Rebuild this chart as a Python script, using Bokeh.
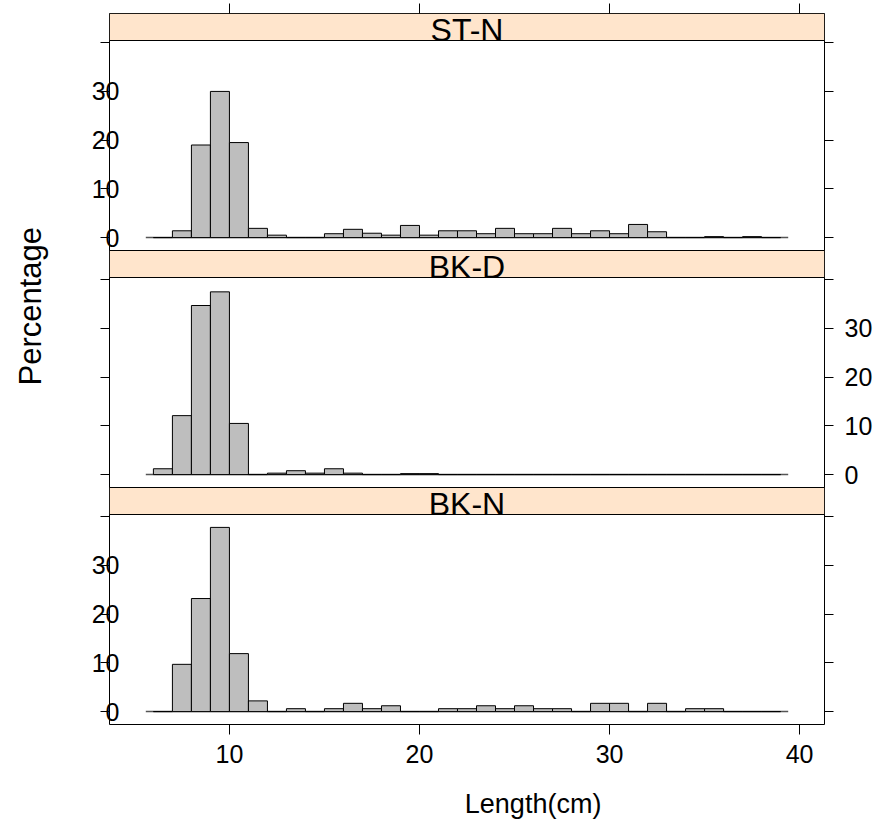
from bokeh.plotting import figure
from bokeh.layouts import column, row
from bokeh.models import LinearAxis, FixedTicker, Range1d
from bokeh.embed import file_html
from bokeh.resources import INLINE
from bokeh.core.properties import value

# ---------------- data ----------------
length_bins = list(range(6, 40))          # histogram bin edges (cm), 1 cm wide
panel_names = ["ST-N", "BK-D", "BK-N"]
pct_st_n = [0, 1.4, 19.0, 30.0, 19.5, 1.9, 0.5, 0, 0, 0.8, 1.7, 0.9, 0.5, 2.5, 0.5, 1.4, 1.4,
            0.8, 1.9, 0.8, 0.8, 1.9, 0.8, 1.4, 0.8, 2.7, 1.2, 0, 0, 0.2, 0, 0.2, 0]
pct_bk_d = [1.2, 12.1, 34.7, 37.5, 10.5, 0, 0.3, 0.8, 0.3, 1.2, 0.3, 0, 0, 0.2, 0.2,
            0, 0, 0, 0, 0, 0, 0, 0, 0, 0, 0, 0, 0, 0, 0, 0, 0, 0]
pct_bk_n = [0, 9.7, 23.2, 37.8, 11.9, 2.2, 0, 0.6, 0, 0.6, 1.7, 0.6, 1.2, 0, 0, 0.6, 0.6,
            1.2, 0.6, 1.2, 0.6, 0.6, 0, 1.7, 1.7, 0, 1.7, 0, 0.6, 0.6, 0, 0, 0]
y_ticks = [0, 10, 20, 30, 40]
y_tick_labels = ["0", "10", "20", "30", ""]
x_ticks = [10, 20, 30, 40]
x_tick_labels = ["10", "20", "30", "40"]
x_title = "Length(cm)"
y_title = "Percentage"
left_labelled = [True, False, True]     # alternating lattice-style y labels
right_labelled = [False, True, False]

series = [pct_st_n, pct_bk_d, pct_bk_n]

# ---------------- layout constants ----------------
FONT = "Liberation Sans"
W_LEFT = 60
W = 878 - W_LEFT
L_BORDER = 109 - W_LEFT
R_BORDER = 878 - 824
PANEL_H = 210
STRIP_H = 27
TOP_PAD = 13
AXIS_PAD = 57
N = len(panel_names)
MAIN_H = TOP_PAD + N * (PANEL_H + STRIP_H) + AXIS_PAD
TITLE_H = 825 - MAIN_H

xlo, xhi = length_bins[0], length_bins[-1]
xpad = 0.07 * (xhi - xlo)
x_start, x_end = xlo - xpad, xhi + xpad
ymax = max(max(s) for s in series)
y_start, y_end = -0.07 * ymax, 1.07 * ymax
ppu = PANEL_H / (y_end - y_start)             # pixels per percentage unit
strip_units = STRIP_H / ppu
band_units = (PANEL_H + STRIP_H) / ppu
total_units = N * band_units

# each panel gets its own y scale, stacked within one frame
p = figure(width=W, height=MAIN_H,
           x_range=Range1d(x_start, x_end),
           y_range=Range1d(y_start, y_start + total_units),
           output_backend="svg", toolbar_location=None,
           x_axis_location=None, y_axis_location=None,
           min_border_left=L_BORDER, min_border_right=R_BORDER,
           min_border_top=TOP_PAD, min_border_bottom=AXIS_PAD)
p.grid.visible = False
p.outline_line_color = "black"
p.outline_line_width = 1

left_ticks, left_over, right_over = [], {}, {}
for k, (name, pct) in enumerate(zip(panel_names, series)):
    shift = (N - 1 - k) * band_units
    rname = "panel%d" % k
    p.extra_y_ranges[rname] = Range1d(y_start - shift, y_start - shift + total_units)

    # strip
    p.quad(left=[x_start], right=[x_end], bottom=[y_end], top=[y_end + strip_units],
           fill_color="#ffe5cc", line_color="black", line_width=1, y_range_name=rname)
    p.text(x=[(x_start + x_end) / 2], y=[y_end + strip_units * 0.40], text=[name],
           text_font=value(FONT), text_font_size="32px", text_align="center",
           text_baseline="middle", text_color="black", y_range_name=rname)

    # baseline + bars
    p.segment(x0=[xlo - 0.4], y0=[0], x1=[xhi + 0.4], y1=[0], line_color="#555555",
              line_width=1.5, y_range_name=rname)
    p.quad(left=length_bins[:-1], right=length_bins[1:], bottom=0, top=pct,
           fill_color="#bebebe", line_color="black", line_width=1, y_range_name=rname)

    # tick positions of this panel expressed on the shared (bottom-panel) scale
    for t, lab in zip(y_ticks, y_tick_labels):
        g = round(t + shift, 9)
        left_ticks.append(g)
        left_over[g] = lab if left_labelled[k] else ""
        right_over[g] = lab if right_labelled[k] else ""


def y_axis(overrides, standoff):
    return LinearAxis(ticker=FixedTicker(ticks=left_ticks, minor_ticks=[]),
                      major_label_overrides=overrides,
                      axis_line_color=None, major_tick_in=0, major_tick_out=9,
                      major_tick_line_color="black", minor_tick_line_color=None,
                      major_label_text_font=FONT, major_label_text_font_size="25px",
                      major_label_text_color="black", major_label_standoff=standoff)


p.add_layout(y_axis(left_over, -19), "left")
p.add_layout(y_axis(right_over, 11), "right")

p.add_layout(LinearAxis(ticker=FixedTicker(ticks=x_ticks, minor_ticks=[]),
                        major_label_overrides={t: "" for t in x_ticks},
                        axis_line_color=None, major_tick_in=0, major_tick_out=10,
                        minor_tick_line_color=None, major_label_text_font_size="0px",
                        major_label_standoff=0), "above")
p.add_layout(LinearAxis(ticker=FixedTicker(ticks=x_ticks, minor_ticks=[]),
                        major_label_overrides={t: lab for t, lab in zip(x_ticks, x_tick_labels)},
                        axis_line_color=None, major_tick_in=0, major_tick_out=10,
                        minor_tick_line_color=None, major_label_text_font=FONT,
                        major_label_text_font_size="25px", major_label_text_color="black",
                        major_label_standoff=10), "below")


def blank_fig(w, h):
    f = figure(width=w, height=h, x_range=Range1d(0, w), y_range=Range1d(h, 0),
               output_backend="svg", toolbar_location=None, x_axis_location=None,
               y_axis_location=None, min_border_left=0, min_border_right=0,
               min_border_top=0, min_border_bottom=0)
    f.grid.visible = False
    f.outline_line_color = None
    return f


# x-axis title
bf = blank_fig(W, TITLE_H)
bf.text(x=[L_BORDER + (W - L_BORDER - R_BORDER) / 2], y=[TITLE_H / 2], text=[x_title],
        text_font=value(FONT), text_font_size="27px", text_align="left",
        text_baseline="middle", text_color="black")

# shared y-axis title
lf = blank_fig(W_LEFT, 825)
lf.text(x=[30], y=[385], text=[y_title], angle=1.5708,
        text_font=value(FONT), text_font_size="31px", text_align="left",
        text_baseline="middle", text_color="black")

layout = row(lf, column(p, bf, spacing=0), spacing=0)

with open("out.html", "w") as f:
    f.write(file_html(layout, INLINE))
